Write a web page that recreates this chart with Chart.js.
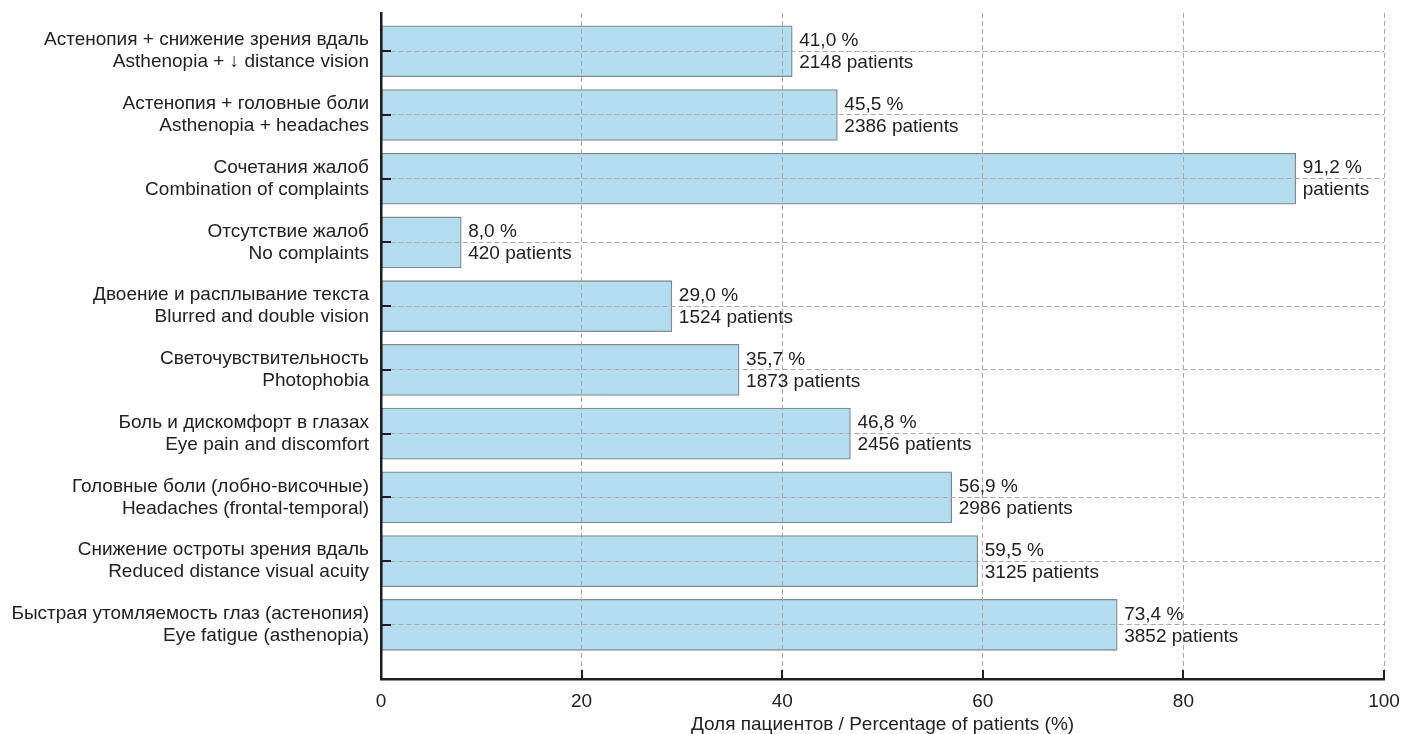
<!DOCTYPE html>
<html>
<head>
<meta charset="utf-8">
<script src="https://cdn.jsdelivr.net/npm/chart.js@4/dist/chart.umd.min.js"></script>
<style>
  html, body { margin: 0; padding: 0; background: #fff; }
  #wrap { width: 1415px; height: 734px; position: relative; }
</style>
</head>
<body>
<div id="wrap"><canvas id="c"></canvas></div>
<script>
// Complaint categories (Russian / English), top to bottom
const labelsRu = [
  'Астенопия + снижение зрения вдаль',
  'Астенопия + головные боли',
  'Сочетания жалоб',
  'Отсутствие жалоб',
  'Двоение и расплывание текста',
  'Светочувствительность',
  'Боль и дискомфорт в глазах',
  'Головные боли (лобно-височные)',
  'Снижение остроты зрения вдаль',
  'Быстрая утомляемость глаз (астенопия)'
];
const labelsEn = [
  'Asthenopia + \u2193 distance vision',
  'Asthenopia + headaches',
  'Combination of complaints',
  'No complaints',
  'Blurred and double vision',
  'Photophobia',
  'Eye pain and discomfort',
  'Headaches (frontal-temporal)',
  'Reduced distance visual acuity',
  'Eye fatigue (asthenopia)'
];
// Share of patients, %
const percentValues = [41.0, 45.5, 91.2, 8.0, 29.0, 35.7, 46.8, 56.9, 59.5, 73.4];
// Number of patients (not given for the combined row)
const patientCounts = [2148, 2386, null, 420, 1524, 1873, 2456, 2986, 3125, 3852];
// Horizontal axis ticks
const xTicks = [0, 20, 40, 60, 80, 100];

const FONT = '"Liberation Sans", Arial, Helvetica, sans-serif';
const FONT_SIZE = 19;
const TEXT = '#222222';
const SPINE = '#1e1e1e';
const GRID = '#a9a9a9';

const points = percentValues.map((v, i) => ({ x: v, y: i }));

// Inward tick marks on both axes
const tickMarks = {
  id: 'tickMarks',
  afterDraw(chart) {
    const { ctx, chartArea: a, scales: { x, y } } = chart;
    ctx.save();
    ctx.strokeStyle = SPINE;
    ctx.lineWidth = 2;
    ctx.beginPath();
    labelsRu.forEach((_, i) => {
      const py = Math.round(y.getPixelForValue(i));
      ctx.moveTo(a.left, py);
      ctx.lineTo(a.left + 10, py);
    });
    xTicks.forEach(t => {
      const px = Math.round(x.getPixelForValue(t));
      ctx.moveTo(px, a.bottom);
      ctx.lineTo(px, a.bottom - 9);
    });
    ctx.stroke();
    ctx.restore();
  }
};

// Percent and patient count next to each bar
const valueLabels = {
  id: 'valueLabels',
  afterDraw(chart) {
    const { ctx } = chart;
    const meta = chart.getDatasetMeta(0);
    ctx.save();
    ctx.font = FONT_SIZE + 'px ' + FONT;
    ctx.fillStyle = TEXT;
    ctx.textAlign = 'left';
    ctx.textBaseline = 'middle';
    meta.data.forEach((bar, i) => {
      const tx = bar.x + 7;
      const pct = percentValues[i].toFixed(1).replace('.', ',') + ' %';
      const cnt = patientCounts[i] == null ? 'patients' : patientCounts[i] + ' patients';
      ctx.fillText(pct, tx, bar.y - 10.5);
      ctx.fillText(cnt, tx, bar.y + 11.5);
    });
    ctx.restore();
  }
};

new Chart(document.getElementById('c'), {
  type: 'bar',
  data: {
    datasets: [{
      data: points,
      backgroundColor: '#b4ddef',
      borderColor: '#7f8b91',
      borderWidth: 1.3,
      borderSkipped: false,
      barThickness: 51
    }]
  },
  options: {
    indexAxis: 'y',
    responsive: true,
    maintainAspectRatio: false,
    animation: false,
    layout: { padding: { left: 0, right: 31, top: 13, bottom: 0 } },
    plugins: {
      legend: { display: false },
      tooltip: { enabled: false }
    },
    scales: {
      x: {
        type: 'linear',
        position: 'bottom',
        min: 0,
        max: 100,
        afterFit: s => { s.height = 55; s.paddingLeft = 0; s.paddingRight = 0; },
        afterBuildTicks: s => { s.ticks = xTicks.map(v => ({ value: v })); },
        grid: { color: GRID, lineWidth: 1, drawTicks: false, z: 1 },
        border: { display: true, color: SPINE, width: 2.5, dash: [5, 3], z: 2 },
        ticks: {
          padding: 11,
          color: TEXT,
          font: { family: FONT, size: FONT_SIZE }
        },
        title: {
          display: true,
          text: 'Доля пациентов / Percentage of patients (%)',
          color: TEXT,
          font: { family: FONT, size: FONT_SIZE },
          padding: { top: 0, bottom: -2 }
        }
      },
      y: {
        type: 'linear',
        reverse: true,
        offset: false,
        min: -0.6,
        max: 9.85,
        afterFit: s => { s.width = 381; s.paddingTop = 0; s.paddingBottom = 0; },
        afterBuildTicks: s => { s.ticks = labelsRu.map((_, i) => ({ value: i })); },
        grid: { color: GRID, lineWidth: 1, drawTicks: false, offset: false, z: 1 },
        border: { display: true, color: SPINE, width: 2.5, dash: [5, 3], z: 2 },
        ticks: {
          padding: 12,
          color: TEXT,
          font: { family: FONT, size: FONT_SIZE, lineHeight: 22 / FONT_SIZE },
          callback: v => [labelsRu[v], labelsEn[v]]
        }
      }
    }
  },
  plugins: [tickMarks, valueLabels]
});
</script>
</body>
</html>
